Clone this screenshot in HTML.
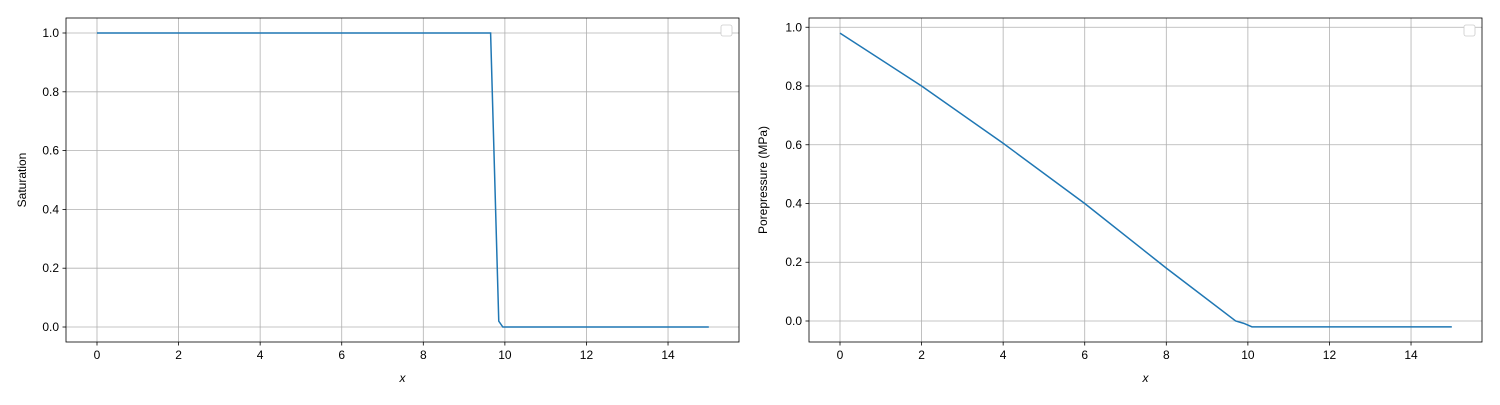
<!DOCTYPE html>
<html><head><meta charset="utf-8"><style>
body{margin:0;background:#fff;font-family:"Liberation Sans",sans-serif}
svg text{font-family:"Liberation Sans",sans-serif;font-size:12px;fill:#000}
</style></head><body>
<svg id="fig" width="1500" height="400" xmlns="http://www.w3.org/2000/svg"></svg>
<script>
const satX = [0, 9.65, 9.85, 9.95, 15];
const satY = [1, 1, 0.02, 0, 0];
const presX = [0, 2, 4, 6, 8, 9.7, 9.9, 10.1, 15];
const presY = [0.98, 0.80, 0.605, 0.40, 0.18, 0.0, -0.008, -0.02, -0.02];
const xTicks = [0, 2, 4, 6, 8, 10, 12, 14];
const satTicks = [0, 0.2, 0.4, 0.6, 0.8, 1.0];
const presTicks = [0, 0.2, 0.4, 0.6, 0.8, 1.0];

const NS = "http://www.w3.org/2000/svg";
const fig = document.getElementById('fig');
function el(tag, attrs, parent){const e=document.createElementNS(NS,tag);for(const k in attrs)e.setAttribute(k,attrs[k]);(parent||fig).appendChild(e);return e;}

function panel(name, L, xmin, xmax, ymin, ymax, xs, ys, yticks, ylabel, yoff){
  const T=18,B=342,R=L+673;
  const g=el('g',{});
  
  
  const sx=v=>L+(v-xmin)/(xmax-xmin)*(R-L);
  const sy=v=>B-(v-ymin)/(ymax-ymin)*(B-T);
  xTicks.forEach(t=>{
    const x=sx(t);
    const gl=el('line',{x1:x,x2:x,y1:T,y2:B,stroke:'#b0b0b0','stroke-width':0.8},g);
    
    
    el('line',{x1:x,x2:x,y1:B,y2:B+3.5,stroke:'#000','stroke-width':0.8},g);
    const tx=el('text',{x:x,y:B+17,'text-anchor':'middle'},g);tx.textContent=t;
    
    
  });
  yticks.forEach(t=>{
    const y=sy(t);
    const gl=el('line',{x1:L,x2:R,y1:y,y2:y,stroke:'#b0b0b0','stroke-width':0.8},g);
    
    
    el('line',{x1:L-3.5,x2:L,y1:y,y2:y,stroke:'#000','stroke-width':0.8},g);
    const tx=el('text',{x:L-7,y:y+4,'text-anchor':'end'},g);tx.textContent=t.toFixed(1);
    
    
  });
  const pts=xs.map((x,i)=>sx(x).toFixed(2)+','+sy(ys[i]).toFixed(2)).join(' ');
  const line=el('polyline',{points:pts,fill:'none',stroke:'#1f77b4','stroke-width':1.5},g);
  
  
  const fr=el('rect',{x:L,y:T,width:R-L,height:B-T,fill:'none',stroke:'#000','stroke-width':0.8},g);
  
  
  const lg=el('rect',{x:R-18,y:T+7,width:11,height:11,rx:2,fill:'#fff',stroke:'#ccc','stroke-width':0.8},g);
  
  
  const xl=el('text',{x:(L+R)/2,y:382,'text-anchor':'middle','font-style':'italic'},g);xl.textContent='x';
  
  
  const yx=L-yoff;
  const yl=el('text',{x:yx,y:(T+B)/2,'text-anchor':'middle',transform:`rotate(-90 ${yx} ${(T+B)/2})`},g);yl.textContent=ylabel;
  
  
}
panel('saturation-chart',66,-0.76,15.74,-0.051,1.051,satX,satY,satTicks,'Saturation',40);
panel('porepressure-chart',809,-0.76,15.74,-0.0715,1.0315,presX,presY,presTicks,'Porepressure (MPa)',42);
</script>
</body></html>
